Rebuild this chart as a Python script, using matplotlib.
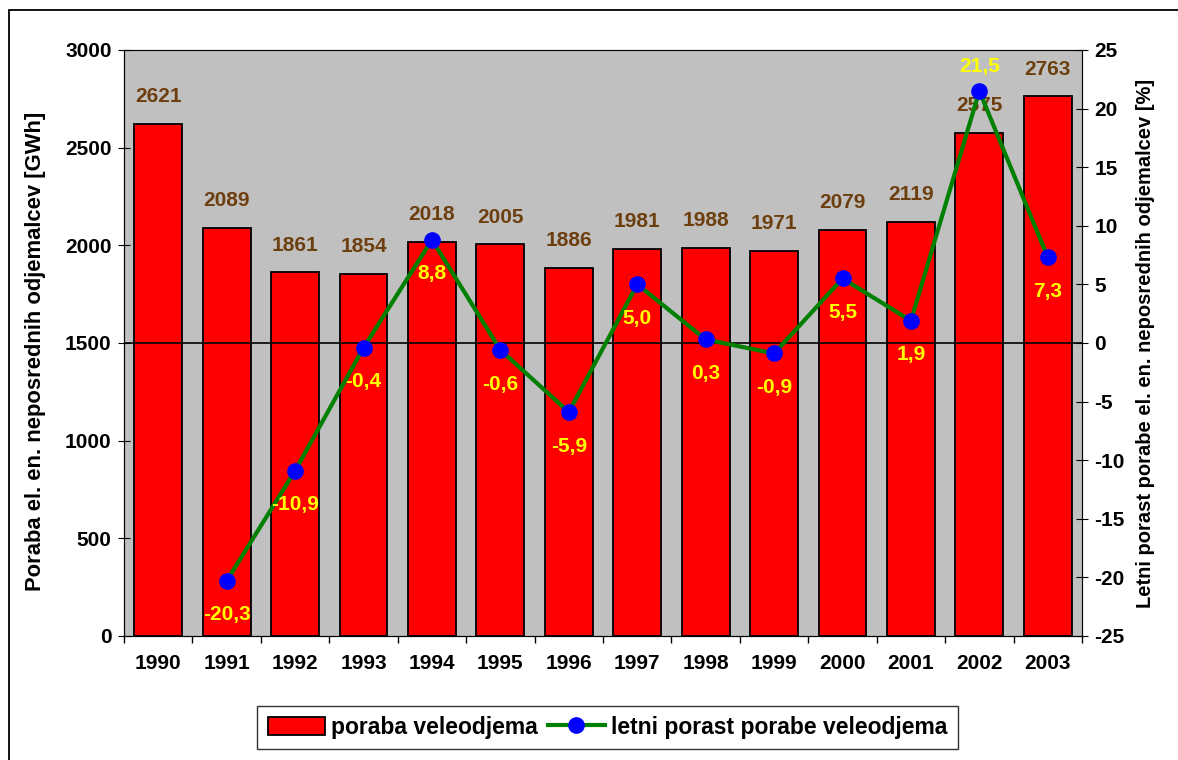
import matplotlib
matplotlib.use("Agg")
import matplotlib.pyplot as plt
from matplotlib.patches import Rectangle, Patch
from matplotlib.lines import Line2D
import numpy as np

plt.rcParams['font.family'] = ['Liberation Sans', 'DejaVu Sans']
plt.rcParams['font.weight'] = 'bold'
plt.rcParams['axes.unicode_minus'] = False

# data
years = ['1990', '1991', '1992', '1993', '1994', '1995', '1996',
         '1997', '1998', '1999', '2000', '2001', '2002', '2003']
poraba = [2621, 2089, 1861, 1854, 2018, 2005, 1886,
          1981, 1988, 1971, 2079, 2119, 2575, 2763]
rast_years = years[1:]
rast = [-20.3, -10.9, -0.4, 8.8, -0.6, -5.9, 5.0, 0.3, -0.9, 5.5, 1.9, 21.5, 7.3]

brown = '#6E3F0E'
yellow = '#FFFF00'

fig = plt.figure(figsize=(11.78, 7.6), dpi=100)
ax = fig.add_axes([0.1053, 0.1632, 0.8132, 0.7711])
ax.set_facecolor('#C0C0C0')

x = np.arange(len(years))
ax.bar(x, poraba, width=0.70, color='#FF0000', edgecolor='black', linewidth=1.3, zorder=2)
ax.axhline(1500, color='black', lw=1.2, zorder=3)

for xi, v in zip(x, poraba):
    ax.annotate(str(v), (xi, v), xytext=(0, 19.5), textcoords='offset points',
                ha='center', va='center', color=brown, fontsize=15, fontweight='bold', zorder=5)

ax.set_xlim(-0.5, len(years) - 0.5)
ax.set_ylim(0, 3000)
ax.set_yticks(np.arange(0, 3001, 500))
ax.set_xticks(x)
ax.set_xticklabels(years)
ax.set_xticks(np.arange(-0.5, len(years), 1), minor=True)
ax.tick_params(axis='x', which='major', length=0, pad=13, labelsize=15)
ax.tick_params(axis='x', which='minor', length=5, direction='out', width=1)
ax.tick_params(axis='y', length=8, direction='inout', labelsize=15, pad=5)
ax.set_ylabel('Poraba el. en. neposrednih odjemalcev [GWh]', fontsize=15.8, fontweight='bold')
ax.yaxis.set_label_coords(-0.081, 0.485)
for s in ['top', 'right']:
    ax.spines[s].set_color('#808080')
for s in ['left', 'bottom']:
    ax.spines[s].set_color('black')

ax2 = ax.twinx()
xr = np.arange(1, len(years))
ax2.plot(xr, rast, color='#008000', lw=3, marker='o', markersize=11,
         markerfacecolor='#0000FF', markeredgecolor='#0000FF', zorder=4)
ax2.set_ylim(-25, 25)
ax2.set_yticks(np.arange(-25, 26, 5))
ax2.tick_params(axis='y', length=8, direction='inout', labelsize=15, pad=5)
ax2.set_ylabel('Letni porast porabe el. en. neposrednih odjemalcev [%]', fontsize=14.5, fontweight='bold', labelpad=8)
ax2.spines['right'].set_color('black')

for xi, v in zip(xr, rast):
    lab = ('%.1f' % v).replace('.', ',')
    off = 17.5 if v > 20 else -24.5
    ax2.annotate(lab, (xi, v), xytext=(0, off), textcoords='offset points',
                 ha='center', va='center', color=yellow, fontsize=15, fontweight='bold', zorder=6)

# legend
handles = [Patch(facecolor='#FF0000', edgecolor='black', lw=1.3),
           Line2D([0], [0], color='#008000', lw=3, marker='o', markersize=11,
                  markerfacecolor='#0000FF', markeredgecolor='#0000FF')]
leg = fig.legend(handles, ['poraba veleodjema', 'letni porast porabe veleodjema'],
                 loc='center', bbox_to_anchor=(0.5157, 0.043), ncol=2, frameon=True,
                 fancybox=False, edgecolor='black', prop={'size': 16.5, 'weight': 'bold'},
                 handlelength=2.5, handleheight=0.8, handletextpad=0.25, columnspacing=0.45,
                 borderpad=0.45, borderaxespad=0)
leg.get_frame().set_linewidth(1.0)

fig.add_artist(Rectangle((9 / 1178, -0.05), 1.2, 1 - 10 / 760 + 0.05, transform=fig.transFigure,
                         fill=False, edgecolor='black', lw=1.3))

fig.savefig('out.png', dpi=100)
